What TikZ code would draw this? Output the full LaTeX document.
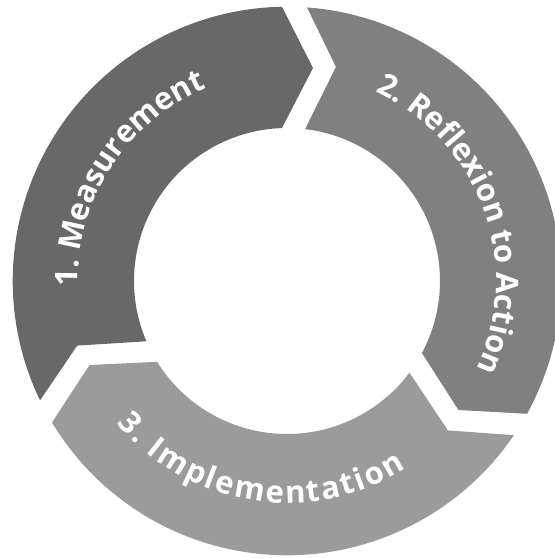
\documentclass[tikz,border=0pt]{standalone}
\usepackage{fontspec}
\newfontfamily\lblfont{Open Sans}
\usetikzlibrary{decorations.text}
\definecolor{segA}{RGB}{104,104,104}
\definecolor{segB}{RGB}{128,128,128}
\definecolor{segC}{RGB}{155,155,155}
\tikzset{
  segshape/.pic={
    \fill[pic actions] (205.8:274.3pt) arc[start angle=205.8, end angle=91.05, radius=274.3pt]
      -- (26pt,213pt) -- (91.9:153pt) arc[start angle=91.9, end angle=203.2, radius=153pt]
      -- (-209.8pt,-64.6pt) -- cycle;
  },
  lbl/.style={decorate, decoration={text along path, text align=center, text color=white, text={#1}}},
  lblfit/.style={decorate, decoration={text along path, text align=fit to path, text color=white, text={#1}}}
}
\newcommand\lblfmt{\lblfont\bfseries\fontsize{31}{31}\selectfont}
\begin{document}
\begin{tikzpicture}
\useasboundingbox (-287pt,-277pt) rectangle (268pt,281pt);
\pic[fill=segA] {segshape};
\pic[fill=segB, rotate=-120] {segshape};
\pic[fill=segC, rotate=-240] {segshape};
\path[lbl={|\lblfmt|1. Measurement}] (207:209pt) arc[start angle=207, end angle=87, radius=209pt];
\path[lbl={|\lblfmt|2. Reflexion to Action}] (90:209pt) arc[start angle=90, end angle=-50, radius=209pt];
\path[lblfit={|\lblfmt|3. Implementation}] (-140:222pt) arc[start angle=-140, end angle=-57.5, radius=222pt];
\end{tikzpicture}
\end{document}
